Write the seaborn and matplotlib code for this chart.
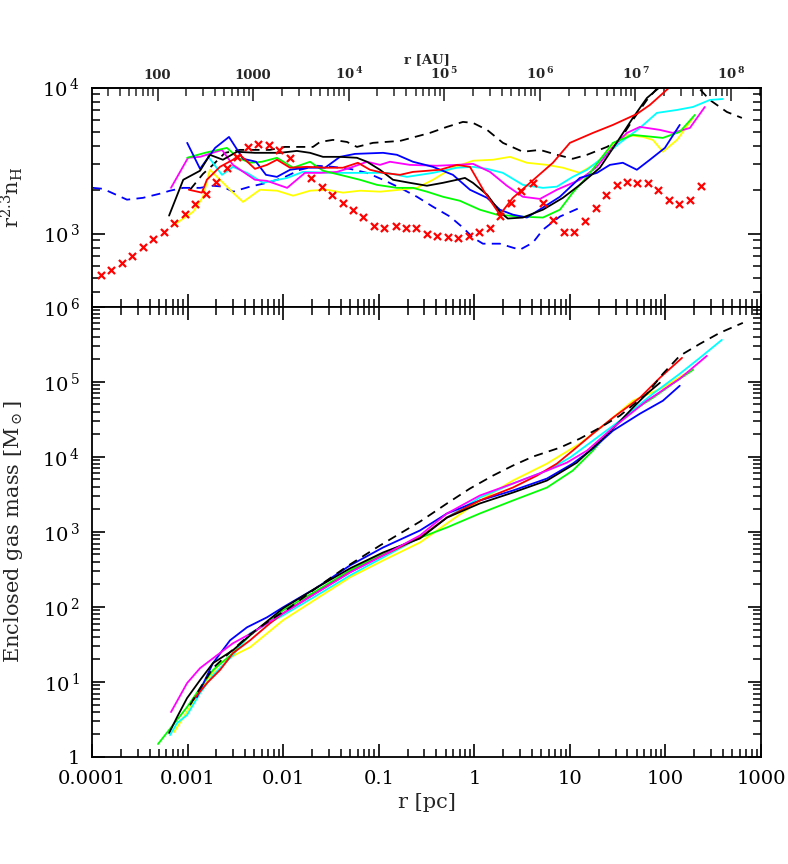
import matplotlib
matplotlib.use("Agg")
import matplotlib.pyplot as plt
import matplotlib.ticker as mticker
import numpy as np
import seaborn as sns

# ---- top panel: r^2.3 n_H profiles (r in pc) ----
top_black_r = [0.00064, 0.0009, 0.00135, 0.00171, 0.00234, 0.00329, 0.00507, 0.0093, 0.0139, 0.0191, 0.0261, 0.0393,
               0.0591, 0.0753, 0.103, 0.141, 0.212, 0.319, 0.469, 0.658, 0.798, 0.967, 1.36, 1.85, 2.24, 3.22, 5.22,
               8.45, 12.7, 20.6, 33.3, 45.6, 63.9, 87.4, 100]
top_black_v = [1330, 2340, 2700, 3470, 3210, 3640, 3580, 3580, 3690, 3580, 3360, 3360, 3310, 3110, 2740, 2340, 2230,
               2130, 2230, 2340, 2410, 2230, 1850, 1410, 1270, 1290, 1460, 1760, 2160, 2830, 4530, 6210, 8500, 10100,
               10800]

top_black_dash_r = [0.00106, 0.00145, 0.00184, 0.00246, 0.00353, 0.00507, 0.00727, 0.0104, 0.015, 0.0205, 0.0243,
                    0.0332, 0.0465, 0.0591, 0.087, 0.167, 0.343, 0.517, 0.76, 0.967, 1.36, 1.99, 3.22, 4.86, 7.31,
                    10.7, 15.1, 24.4, 33.3, 45.6, 63.9, 87.4, 141, 218, 291, 439, 630]
top_black_dash_v = [2000, 2570, 2960, 3580, 3750, 3750, 3750, 3930, 3930, 3930, 4250, 4390, 4250, 3930, 4190, 4320,
                    4900, 5390, 5830, 5740, 5140, 4190, 3640, 3750, 3470, 3260, 3470, 3930, 4390, 6020, 8240, 10400,
                    12500, 10100, 8240, 6820, 6210]

top_blue_r = [0.00099, 0.00135, 0.00194, 0.00271, 0.0038, 0.0052, 0.0066, 0.0086, 0.0118, 0.0169, 0.0274, 0.0393,
              0.0564, 0.111, 0.155, 0.228, 0.369, 0.597, 0.90, 1.36, 1.85, 2.53, 3.55, 5.22, 7.86, 12.7, 19.2, 26.2,
              35.8, 50.2, 68.7, 98.6, 141]
top_blue_v = [4190, 2780, 3870, 4600, 3260, 3110, 2530, 2450, 2740, 2830, 2830, 3360, 3520, 3580, 3470, 3110, 2870,
              2530, 2000, 1760, 1460, 1350, 1290, 1510, 1790, 2410, 2610, 2960, 3060, 2740, 3210, 3870, 5560]

top_blue_dash_r = [0.000102, 0.00013, 0.000232, 0.000341, 0.000514, 0.000655, 0.000896, 0.00135, 0.00184, 0.00234,
                   0.00298, 0.0045, 0.00677, 0.00995, 0.015, 0.0226, 0.0332, 0.05, 0.0753, 0.111, 0.167, 0.251,
                   0.369, 0.556, 0.76, 0.967, 1.23, 1.85, 2.53, 3.0, 4.1, 5.22, 7.86, 12.7]
top_blue_dash_v = [2060, 2030, 1710, 1760, 1880, 1970, 2060, 2060, 2130, 2100, 1940, 2100, 2230, 2410, 2740, 2920,
                   2870, 2780, 2610, 2340, 2060, 1790, 1530, 1310, 1100, 940, 854, 854, 802, 777, 868, 1065, 1310,
                   1505]

top_red_r = [0.00103, 0.00141, 0.00159, 0.00218, 0.00298, 0.00353, 0.00507, 0.00677, 0.00861, 0.0118, 0.0177,
             0.0287, 0.0422, 0.0605, 0.081, 0.111, 0.167, 0.228, 0.437, 0.658, 0.90, 1.29, 1.85, 2.53, 3.82, 6.64,
             10.0, 17.4, 28.2, 50.2, 68.7, 111, 125]
top_red_v = [2000, 1910, 2340, 2870, 3210, 3470, 2780, 2960, 3210, 2830, 2870, 2830, 2830, 3060, 2740, 2610, 2530,
             2650, 2740, 2960, 2870, 1910, 1350, 1760, 2230, 3060, 4190, 4900, 5560, 6610, 7620, 10100, 11000]

top_green_r = [0.00099, 0.00152, 0.00258, 0.00337, 0.0045, 0.006, 0.00861, 0.0127, 0.0191, 0.0261, 0.0393, 0.0636,
               0.0958, 0.155, 0.228, 0.319, 0.469, 0.706, 1.14, 1.72, 3.0, 5.22, 7.86, 10.7, 15.1, 28.2, 45.6, 93.9,
               141, 203]
top_green_v = [3310, 3580, 3870, 3310, 3060, 3110, 3310, 2830, 3110, 2700, 2530, 2340, 2160, 2060, 2060, 1940, 1790,
               1680, 1460, 1350, 1310, 1290, 1460, 1910, 2450, 4190, 4750, 4530, 4980, 6510]

top_cyan_r = [0.00159, 0.00229, 0.00298, 0.00418, 0.00615, 0.011, 0.0161, 0.0332, 0.0753, 0.122, 0.197, 0.369, 0.658,
              0.967, 1.36, 1.99, 3.22, 5.22, 7.31, 10.7, 15.1, 20.6, 33.3, 54.0, 81.3, 132, 194, 291, 398]
top_cyan_v = [3470, 2530, 2870, 2610, 2230, 2410, 2650, 2610, 2610, 2610, 2450, 2610, 2830, 2870, 2780, 2610, 2160,
              2060, 2100, 2450, 2740, 3210, 4190, 5300, 6720, 7040, 7380, 8240, 8370]

top_magenta_r = [0.00067, 0.00101, 0.00135, 0.00229, 0.00298, 0.00507, 0.00677, 0.011, 0.0169, 0.0243, 0.0366,
                 0.0537, 0.0753, 0.103, 0.131, 0.212, 0.406, 0.658, 0.967, 1.46, 2.19, 3.22, 4.86, 7.31, 12.7, 19.2,
                 28.2, 39.5, 54.0, 87.4, 119, 180, 258]
top_magenta_v = [2060, 3310, 3360, 3750, 2960, 2340, 2300, 2060, 2610, 2610, 2650, 2870, 3110, 2960, 3110, 2960,
                 2920, 2960, 3010, 2650, 2130, 1790, 1730, 2000, 2340, 2870, 3930, 4900, 5390, 5140, 4900, 5300, 7380]

top_yellow_r = [0.00072, 0.00114, 0.00145, 0.00171, 0.00218, 0.00298, 0.0038, 0.00571, 0.00861, 0.0127, 0.0191,
                0.0287, 0.0422, 0.0636, 0.103, 0.167, 0.251, 0.369, 0.597, 0.967, 1.57, 2.36, 3.55, 5.75, 8.45, 12.7,
                19.2, 28.2, 39.5, 58.0, 73.8, 93.9, 132, 194]
top_yellow_v = [1150, 1410, 1790, 2740, 2340, 1910, 1650, 2000, 1970, 1820, 1970, 2000, 1910, 1970, 1940, 2000, 2060,
                2340, 2830, 3160, 3210, 3360, 3060, 2960, 2830, 2610, 3060, 4060, 4750, 4600, 4390, 3640, 4390, 6210]

top_cross_r = [0.000124, 0.000158, 0.000206, 0.000262, 0.000341, 0.000434, 0.000566, 0.000721, 0.00094, 0.00119,
               0.00156, 0.00198, 0.00258, 0.00329, 0.00428, 0.00545, 0.0071, 0.00903, 0.0118, 0.0195, 0.0255, 0.0324,
               0.0422, 0.0537, 0.0684, 0.0891, 0.113, 0.151, 0.193, 0.245, 0.319, 0.406, 0.53, 0.673, 0.879, 1.12,
               1.46, 1.85, 2.41, 3.07, 4.1, 5.22, 6.64, 8.65, 11.0, 14.4, 18.7, 23.8, 31.0, 39.5, 50.2, 65.5, 83.3,
               109, 138, 180, 235]
top_cross_v = [524, 567, 633, 707, 815, 924, 1030, 1190, 1370, 1600, 1880, 2270, 2830, 3360, 3930, 4120, 4060, 3750,
               3310, 2410, 2100, 1850, 1630, 1460, 1310, 1130, 1100, 1120, 1100, 1100, 1000, 969, 954, 939, 969, 1020,
               1100, 1330, 1630, 1970, 2230, 1630, 1250, 1020, 1020, 1230, 1510, 1850, 2160, 2270, 2230, 2230, 2000,
               1710, 1600, 1710, 2130]

# ---- bottom panel: enclosed gas mass (Msun) ----
mass_black_r = [0.00064, 0.000775, 0.000986, 0.00135, 0.00184, 0.00298, 0.0045, 0.00995, 0.0226, 0.05, 0.111, 0.27,
                0.517, 1.14, 2.53, 5.75, 11.8, 17.4, 28.2, 45.6, 63.9, 87.4]
mass_black_m = [2.09, 3.4, 6.09, 10.6, 17.8, 26.5, 41.9, 95.8, 182, 326, 532, 817, 1550, 2390, 3340, 4830, 8370,
                13250, 23710, 45080, 69230, 96900]

mass_black_dash_r = [0.00106, 0.00135, 0.00184, 0.00278, 0.0045, 0.00677, 0.0118, 0.0226, 0.0465, 0.103, 0.167,
                     0.27, 0.517, 0.9, 1.57, 2.53, 4.1, 7.86, 12.7, 20.6, 33.3, 63.9, 93.9, 141, 229, 370, 645]
mass_black_dash_m = [4.91, 8.27, 15.3, 24.9, 43.2, 62.4, 98.8, 182, 347, 659, 952, 1370, 2390, 3780, 5630, 7640,
                     10060, 13250, 17460, 24440, 35310, 69230, 127700, 221600, 320100, 448800, 609400]

mass_blue_r = [0.00125, 0.00184, 0.00278, 0.00418, 0.00677, 0.00995, 0.0226, 0.05, 0.111, 0.27, 0.517, 1.14, 2.53,
               5.75, 10.7, 17.4, 28.2, 54.0, 93.9, 141]
mass_blue_m = [6.28, 17.8, 35.9, 53.5, 72.7, 98.8, 182, 357, 620, 1044, 1757, 2616, 3553, 5132, 8120, 12850, 22300,
               37540, 55860, 88480]

mass_red_r = [0.00114, 0.00159, 0.00218, 0.00298, 0.0045, 0.00727, 0.00995, 0.0226, 0.05, 0.111, 0.27, 0.517, 1.14,
              2.53, 4.52, 7.31, 10.7, 17.4, 28.2, 54.0, 87.4, 149]
mass_red_m = [5.73, 9.64, 14.4, 24.2, 35.9, 60.5, 82.2, 156, 289, 486, 843, 1554, 2616, 3895, 5626, 8120, 12090,
              20350, 33190, 61240, 113000, 208300]

mass_green_r = [0.00049, 0.000703, 0.000986, 0.00135, 0.00184, 0.00298, 0.0045, 0.00995, 0.0226, 0.05, 0.111, 0.228,
                0.517, 1.14, 2.53, 5.75, 10.7, 17.4, 28.2, 45.6, 73.8, 119, 194]
mass_green_m = [1.49, 2.67, 4.62, 8.27, 14.4, 24.2, 41.9, 90.1, 166, 307, 516, 769, 1145, 1757, 2616, 3895, 6550,
                12090, 24440, 41130, 61240, 93990, 144500]

mass_cyan_r = [0.000655, 0.000775, 0.000986, 0.00135, 0.00184, 0.00298, 0.0045, 0.00995, 0.0226, 0.05, 0.111, 0.27,
               0.517, 1.14, 2.53, 5.75, 10.0, 17.4, 33.3, 73.8, 141, 229, 389]
mass_cyan_m = [1.96, 2.83, 3.62, 7.1, 12.3, 22.7, 44.6, 77.3, 143, 263, 457, 843, 1554, 2867, 4403, 6550, 9760,
               16420, 30290, 69230, 127700, 208300, 362100]

mass_magenta_r = [0.00067, 0.000986, 0.00135, 0.00203, 0.00298, 0.00483, 0.00995, 0.0226, 0.05, 0.111, 0.27, 0.517,
                  1.14, 2.53, 5.75, 9.3, 15.1, 28.2, 63.9, 141, 271]
mass_magenta_m = [3.97, 9.64, 15.3, 22.7, 32.8, 45.9, 82.2, 156, 289, 486, 896, 1757, 3048, 4403, 6550, 8373, 12090,
                  24440, 55860, 109600, 221600]

mass_yellow_r = [0.000721, 0.00101, 0.00159, 0.00218, 0.00353, 0.0045, 0.00995, 0.0226, 0.05, 0.111, 0.27, 0.517,
                 1.14, 2.53, 5.75, 12.7, 24.4, 45.6, 93.9, 194]
mass_yellow_m = [2.15, 4.22, 10.6, 17.8, 24.9, 29.0, 66.4, 130, 248, 417, 722, 1294, 2616, 4827, 8120, 14980, 28490,
                 55860, 83230, 148900]

pc_ticks = [1e-4, 1e-3, 1e-2, 1e-1, 1, 10, 100, 1000]
au_ticks = [1e2, 1e3, 1e4, 1e5, 1e6, 1e7, 1e8]
top_y_ticks = [1e3, 1e4]
mass_ticks = [1, 10, 1e2, 1e3, 1e4, 1e5, 1e6]
AU_PER_PC = 206265.0

sns.set_theme(style="ticks")
plt.rcParams["font.family"] = ["DejaVu Serif"]
plt.rcParams["mathtext.fontset"] = "dejavuserif"

fig = plt.figure(figsize=(7.88, 8.64), dpi=100)
ax_top = fig.add_axes([0.1168, 0.645, 0.849, 0.2535])
ax_bot = fig.add_axes([0.1168, 0.1238, 0.849, 0.5212])

DASH = (0, (5, 3.5))
LW = 1.3


def draw(ax, r, v, color, ls="-"):
    sns.lineplot(x=r, y=v, ax=ax, color=color, linestyle=ls, linewidth=LW,
                 estimator=None, sort=False, legend=False)


def pow_label(v, pos):
    e = int(round(np.log10(v)))
    if e == 0:
        return "1"
    return r"$10^{\,%d}$" % e


def pc_label(v, pos):
    return f"{v:g}"


def au_label(v, pos):
    e = int(round(np.log10(v)))
    if e <= 3:
        return f"{v:.0f}"
    return r"$\mathbf{10^{\,%d}}$" % e


for ax, yt in ((ax_top, top_y_ticks), (ax_bot, mass_ticks)):
    ax.set_xscale("log")
    ax.set_yscale("log")
    ax.set_xlim(1e-4, 1e3)
    for sp in ax.spines.values():
        sp.set_linewidth(1.3)
        sp.set_color("black")
        sp.set_visible(True)
    ax.xaxis.set_major_locator(mticker.FixedLocator(pc_ticks))
    ax.xaxis.set_minor_locator(mticker.LogLocator(base=10, subs=np.arange(2, 10), numticks=20))
    ax.yaxis.set_major_locator(mticker.FixedLocator(yt))
    ax.yaxis.set_minor_locator(mticker.LogLocator(base=10, subs=np.arange(2, 10), numticks=20))
    ax.xaxis.set_minor_formatter(mticker.NullFormatter())
    ax.yaxis.set_minor_formatter(mticker.NullFormatter())
    ax.yaxis.set_major_formatter(mticker.FuncFormatter(pow_label))
    ax.tick_params(which="major", direction="in", length=9.5, width=1.2, labelsize=14, pad=9, colors="black")
    ax.tick_params(which="minor", direction="in", length=5.5, width=1.1, colors="black")

# top panel
ax_top.set_ylim(316, 1e4)
draw(ax_top, top_blue_dash_r, top_blue_dash_v, "#0000ff", DASH)
draw(ax_top, top_black_dash_r, top_black_dash_v, "black", DASH)
draw(ax_top, top_yellow_r, top_yellow_v, "#ffff00")
draw(ax_top, top_cyan_r, top_cyan_v, "#00ffff")
draw(ax_top, top_magenta_r, top_magenta_v, "#ff00ff")
draw(ax_top, top_green_r, top_green_v, "#00ff00")
draw(ax_top, top_blue_r, top_blue_v, "#0000ff")
draw(ax_top, top_black_r, top_black_v, "black")
draw(ax_top, top_red_r, top_red_v, "#ff0000")
sns.scatterplot(x=top_cross_r, y=top_cross_v, ax=ax_top, marker="x", color="#ff0000",
                s=26, linewidth=1.6, legend=False, zorder=5)
ax_top.tick_params(which="both", bottom=True, top=False, left=True, right=True,
                   labelbottom=False, labeltop=False)
ax_top.set_ylabel(r"$\mathrm{r^{2.3}n_H}$", fontsize=15)
ax_top.yaxis.set_label_coords(-0.1, 0.5)

sec = ax_top.secondary_xaxis("top", functions=(lambda x: x * AU_PER_PC, lambda x: x / AU_PER_PC))
sec.xaxis.set_major_locator(mticker.FixedLocator(au_ticks))
sec.xaxis.set_minor_locator(mticker.LogLocator(base=10, subs=np.arange(2, 10), numticks=20))
sec.xaxis.set_major_formatter(mticker.FuncFormatter(au_label))
sec.xaxis.set_minor_formatter(mticker.NullFormatter())
sec.tick_params(which="major", direction="in", length=9.5, width=1.2, labelsize=9.5, pad=4)
sec.tick_params(which="minor", direction="in", length=5.5, width=1.1)
for lab in sec.get_xticklabels():
    lab.set_fontweight("bold")
sec.set_xlabel("r [AU]", fontsize=9.5, fontweight="bold", labelpad=2)

# bottom panel
ax_bot.set_ylim(1, 1e6)
draw(ax_bot, mass_yellow_r, mass_yellow_m, "#ffff00")
draw(ax_bot, mass_green_r, mass_green_m, "#00ff00")
draw(ax_bot, mass_cyan_r, mass_cyan_m, "#00ffff")
draw(ax_bot, mass_blue_r, mass_blue_m, "#0000ff")
draw(ax_bot, mass_red_r, mass_red_m, "#ff0000")
draw(ax_bot, mass_black_r, mass_black_m, "black")
draw(ax_bot, mass_magenta_r, mass_magenta_m, "#ff00ff")
draw(ax_bot, mass_black_dash_r, mass_black_dash_m, "black", DASH)
ax_bot.xaxis.set_major_formatter(mticker.FuncFormatter(pc_label))
ax_bot.tick_params(which="both", bottom=True, top=True, left=True, right=True, labeltop=False)
ax_bot.set_xlabel("r [pc]", fontsize=15, labelpad=4)
ax_bot.set_ylabel(r"Enclosed gas mass [$\mathrm{M}_\odot$]", fontsize=15)
ax_bot.yaxis.set_label_coords(-0.1, 0.5)

fig.savefig("out.png", dpi=100)
